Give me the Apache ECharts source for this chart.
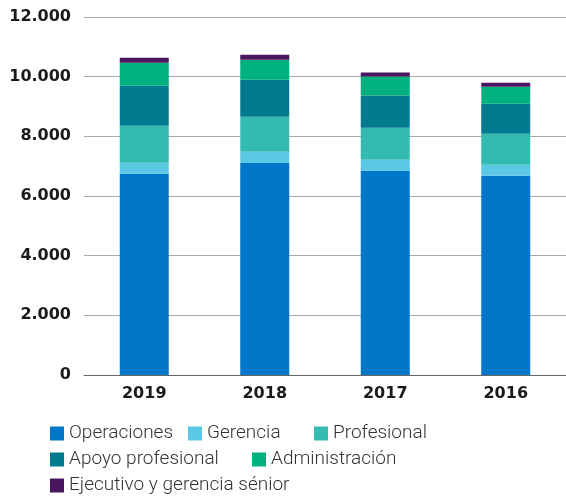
<!DOCTYPE html>
<html><head><meta charset="utf-8">
<script src="https://cdn.jsdelivr.net/npm/echarts@6/dist/echarts.min.js"></script>
<style>html,body{margin:0;padding:0;background:#fff}#c{width:566px;height:497px}</style>
</head><body><div id="c"></div>
<script>
const categories = ['2019', '2018', '2017', '2016'];
const operaciones = [6745, 7110, 6850, 6680];
const gerencia = [370, 370, 365, 370];
const profesional = [1240, 1175, 1075, 1040];
const apoyoProfesional = [1340, 1240, 1075, 1005];
const administracion = [770, 670, 640, 570];
const ejecutivo = [170, 170, 135, 135];
const yTicks = [0, 2000, 4000, 6000, 8000, 10000, 12000];

const names = ['Operaciones','Gerencia','Profesional','Apoyo profesional','Administración','Ejecutivo y gerencia sénior'];
const colors = ['#0077c8','#5bc8e4','#33bbb0','#007a8e','#00b07f','#4a1660'];
const values = [operaciones, gerencia, profesional, apoyoProfesional, administracion, ejecutivo];

const legendPos = [[45,419],[183,419],[309,419],[45,445],[247,445],[45,471]];
const legends = names.map((n,i)=>({
  data:[n], left:legendPos[i][0], top:legendPos[i][1], orient:'horizontal',
  itemWidth:14, itemHeight:14, itemGap:10, icon:'rect', selectedMode:false,
  textStyle:{fontFamily:'Roboto', fontWeight:300, fontSize:19, color:'#333', padding:[0,0,0,0]}
}));

const chart = echarts.init(document.getElementById('c'));
chart.setOption({
  animation:false,
  color: colors,
  legend: legends,
  grid:{left:84, right:0, top:17, bottom:122, containLabel:false},
  xAxis:{type:'category', data:categories,
    axisLine:{lineStyle:{color:'#666', width:1}}, axisTick:{show:false},
    axisLabel:{fontFamily:'DejaVu Sans', fontWeight:'bold', fontSize:16, color:'#1a1a1a', margin:11}},
  yAxis:{type:'value', min:0, max:12000, interval:2000,
    axisLine:{show:false}, axisTick:{show:false},
    splitLine:{lineStyle:{color:'#aaa', width:1}},
    axisLabel:{fontFamily:'DejaVu Sans', fontWeight:'bold', fontSize:16, color:'#1a1a1a', margin:13,
      formatter:v=> yTicks.includes(v) ? (v===0?'0':v.toLocaleString('de-DE')) : ''}},
  series: names.map((n,i)=>({name:n, type:'bar', stack:'a', barWidth:49, data:values[i], itemStyle:{color:colors[i]}}))
});
</script></body></html>
